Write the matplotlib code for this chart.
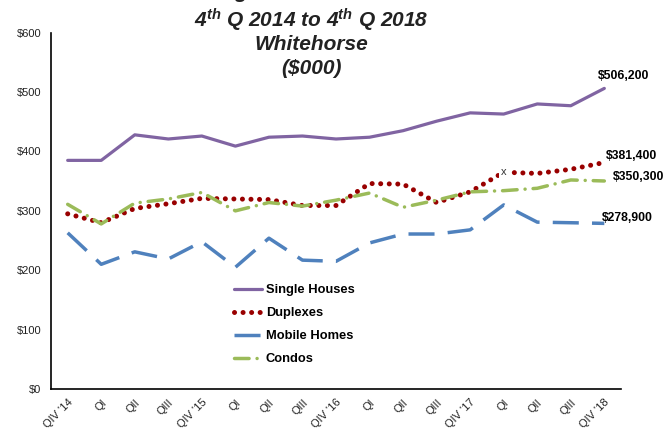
import matplotlib
matplotlib.use("Agg")
import matplotlib.pyplot as plt
import numpy as np
from matplotlib.ticker import FuncFormatter

plt.rcParams['font.family'] = ['Liberation Sans', 'DejaVu Sans']
plt.rcParams['mathtext.fontset'] = 'custom'
plt.rcParams['mathtext.rm'] = 'Liberation Sans:bold:italic'
plt.rcParams['mathtext.it'] = 'Liberation Sans:bold:italic'
plt.rcParams['mathtext.bf'] = 'Liberation Sans:bold:italic'

# ---- data (thousands of $) ----
quarters = ["QIV '14", "QI", "QII", "QIII", "QIV '15", "QI", "QII", "QIII",
            "QIV '16", "QI", "QII", "QIII", "QIV '17", "QI", "QII", "QIII", "QIV '18"]
single_houses = [385, 385, 428, 421, 426, 409, 424, 426, 421, 424, 435, 451,
                 465, 463, 480, 477, 506.2]
duplexes = [295, 280, 304, 312, 321, 320, 319, 309, 309, 346, 345, 314,
            332, 365, 363, 370, 381.4]
mobile_homes = [263, 210, 231, 219, 248, 205, 254, 217, 215, 246, 261, 261,
                268, 310, 281, 280, 278.9]
condos = [311, 278, 313, 320, 331, 300, 314, 308, 318, 330, 306, 318,
          332, 334, 338, 352, 350.3]

end_labels = ["$506,200", "$381,400", "$350,300", "$278,900"]

c_single = '#8064A2'
c_duplex = '#990000'
c_mobile = '#4F81BD'
c_condo = '#9BBB59'

x = np.arange(len(quarters))

fig = plt.figure(figsize=(6.7, 4.29), dpi=100)
ax = fig.add_axes([0.076, 0.0932, 0.851, 0.8306])

ax.plot(x, single_houses, color=c_single, lw=2.3, label='Single Houses',
        solid_capstyle='round')
ax.plot(x, duplexes, color=c_duplex, lw=3.6, linestyle=(0, (0.01, 1.7)),
        dash_capstyle='round', label='Duplexes')
ax.plot(x, mobile_homes, color=c_mobile, lw=2.5, linestyle=(0, (7.5, 3.8)),
        label='Mobile Homes')
ax.plot(x, condos, color=c_condo, lw=2.5, linestyle=(0, (4.2, 2.3, 0.01, 2.3)),
        dash_capstyle='round', label='Condos')

# suppressed value marker
ax.text(13, duplexes[13], 'x', ha='center', va='center', fontsize=8, color='#333333',
        bbox=dict(facecolor='white', edgecolor='none', pad=1.5))

# end-of-series labels
offsets = [(-6, 12), (2, 7), (9, 4), (-2, 5)]
finals = [single_houses[-1], duplexes[-1], condos[-1], mobile_homes[-1]]
for lab, val, off in zip(end_labels, finals, offsets):
    ax.annotate(lab.replace('$', r'\$'), (x[-1], val), xytext=off,
                textcoords='offset pixels', ha='left', va='center',
                fontsize=8.8, fontweight='bold', color='black')

ax.set_xlim(-0.5, len(quarters) - 0.5)
ax.set_ylim(0, 600)
ax.set_yticks(np.arange(0, 601, 100))
ax.yaxis.set_major_formatter(FuncFormatter(lambda v, p: r'\$%d' % v))
ax.set_xticks(x)
ax.set_xticklabels(quarters, rotation=45, ha='right', rotation_mode='anchor')
ax.tick_params(axis='both', length=0, labelsize=8, colors='#222222')
ax.tick_params(axis='x', pad=6)
ax.tick_params(axis='y', pad=7)
for s in ['top', 'right']:
    ax.spines[s].set_visible(False)
for s in ['left', 'bottom']:
    ax.spines[s].set_color('black')
    ax.spines[s].set_linewidth(1.2)

leg = ax.legend(loc='upper left', bbox_to_anchor=(234 / 670, 1 - 284 / 429),
                bbox_transform=fig.transFigure, frameon=False, fontsize=9.3,
                handlelength=2.2, handletextpad=0.25, labelspacing=0.85,
                borderpad=0, borderaxespad=0)
for t in leg.get_texts():
    t.set_fontweight('bold')

# title (first line runs off the top of the image, as in the source)
fig.text(311 / 670, 430.5 / 429, "Average Residential Prices", ha='center',
         va='baseline', fontsize=15, fontweight='bold', fontstyle='italic',
         color='#222222')
title_lines = [r"4$^{\mathrm{th}}$ Q 2014 to 4$^{\mathrm{th}}$ Q 2018",
               "Whitehorse", "(\\$000)"]
ys = [409, 385, 361]
for t, yy in zip(title_lines, ys):
    fig.text(311 / 670, yy / 429, t, ha='center', va='center', fontsize=15,
             fontweight='bold', fontstyle='italic', color='#222222')

fig.savefig('out.png', dpi=100)
